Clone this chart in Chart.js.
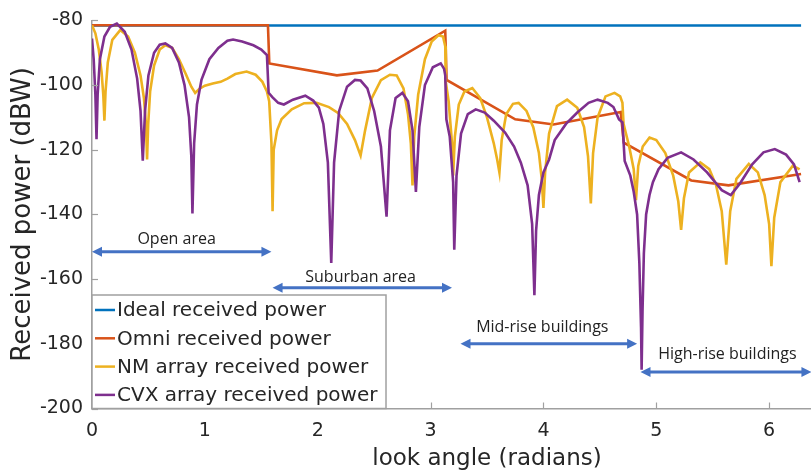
<!DOCTYPE html>
<html>
<head>
<meta charset="utf-8">
<title>Received power vs look angle</title>
<script src="https://cdn.jsdelivr.net/npm/chart.js@4.4.1/dist/chart.umd.min.js"></script>
<style>
  html, body { margin: 0; padding: 0; background: #fff; overflow: hidden; }
  /* the axes run to 7 rad; the figure is cropped at the window edge */
  #wrap { width: 882px; height: 473px; }
</style>
</head>
<body>
<div id="wrap"><canvas id="chart"></canvas></div>
<script>
// look angle (radians) / received power (dBW)
const idealX = [0, 6.283];
const idealY = [-81.6, -81.6];

const omniX = [0, 1.559, 1.571, 2.17, 2.53, 3.13, 3.142, 3.75, 4.09, 4.685, 4.712, 5.31, 5.64, 6.283];
const omniY = [-81.5, -81.5, -93.3, -97.0, -95.5, -83.2, -98.4, -110.6, -112.2, -108.3, -117.8, -129.5, -131.0, -127.5];

const nmX = [0.00, 0.03, 0.06, 0.085, 0.100, 0.110, 0.120, 0.140, 0.180, 0.250, 0.320, 0.380, 0.430, 0.460, 0.478, 0.488, 0.498, 0.515, 0.550, 0.600,
  0.650, 0.710, 0.770, 0.830, 0.880, 0.914, 0.950, 1.000, 1.070, 1.140, 1.200, 1.270, 1.370, 1.450, 1.510, 1.550, 1.570, 1.590, 1.600, 1.610,
  1.640, 1.680, 1.770, 1.880, 1.990, 2.100, 2.180, 2.260, 2.330, 2.380, 2.420, 2.480, 2.560, 2.640, 2.700, 2.760, 2.800, 2.825, 2.840, 2.855,
  2.890, 2.950, 3.010, 3.070, 3.110, 3.130, 3.135, 3.160, 3.190, 3.200, 3.215, 3.250, 3.300, 3.370, 3.440, 3.500, 3.560, 3.590, 3.610, 3.630,
  3.670, 3.730, 3.780, 3.850, 3.910, 3.960, 3.985, 4.000, 4.015, 4.050, 4.120, 4.210, 4.300, 4.360, 4.395, 4.420, 4.440, 4.480, 4.550, 4.630,
  4.680, 4.700, 4.710, 4.760, 4.800, 4.820, 4.840, 4.880, 4.940, 5.000, 5.080, 5.150, 5.195, 5.220, 5.245, 5.290, 5.390, 5.470, 5.530, 5.580,
  5.620, 5.655, 5.710, 5.820, 5.900, 5.960, 6.000, 6.020, 6.045, 6.100, 6.210, 6.270];
const nmY = [-81.5, -84, -89, -96, -103, -111, -102, -93, -86, -83, -85, -90, -97, -104, -112, -123, -112, -102, -94, -89,
  -87.7, -88.5, -92, -96.5, -100.5, -102.4, -101.2, -100.2, -99.5, -99, -98, -96.6, -95.8, -96.8, -99, -102, -105, -118, -139, -120,
  -114, -110.5, -107.5, -105.6, -105.5, -106.8, -108.6, -112, -117, -121.8, -114, -104, -98.5, -96.8, -97, -101, -109, -118, -131, -116,
  -103, -92, -86.5, -84.6, -85, -88, -99, -105, -118, -128, -116, -106, -102, -100.9, -104, -110, -118, -123, -127, -117,
  -109, -105.8, -105.5, -108, -113, -121, -129, -138, -127, -115, -106.5, -104.5, -107, -113, -122, -136.6, -121, -110, -103.5, -102.4,
  -103.5, -105.5, -112, -119, -126, -135.6, -125, -119, -116.2, -117, -121, -128, -136, -144.8, -135, -127, -123.9, -126, -131, -139,
  -155.5, -139, -129, -124.4, -127, -134, -143, -156, -141, -130, -124.9, -126.1];

const cvxX = [0.000, 0.015, 0.030, 0.040, 0.050, 0.070, 0.110, 0.160, 0.220, 0.290, 0.350, 0.400, 0.430, 0.450, 0.470, 0.500, 0.550, 0.600, 0.650, 0.710,
  0.770, 0.820, 0.860, 0.880, 0.890, 0.905, 0.930, 0.970, 1.040, 1.120, 1.200, 1.250, 1.330, 1.430, 1.500, 1.550, 1.565, 1.600, 1.650, 1.700,
  1.780, 1.890, 1.960, 2.010, 2.050, 2.090, 2.120, 2.145, 2.190, 2.260, 2.330, 2.380, 2.440, 2.500, 2.560, 2.610, 2.640, 2.690, 2.750, 2.800,
  2.840, 2.870, 2.900, 2.950, 3.020, 3.090, 3.120, 3.130, 3.140, 3.170, 3.200, 3.210, 3.230, 3.270, 3.330, 3.400, 3.480, 3.560, 3.660, 3.740,
  3.800, 3.860, 3.900, 3.920, 3.935, 3.960, 4.000, 4.050, 4.100, 4.200, 4.300, 4.400, 4.480, 4.570, 4.620, 4.670, 4.700, 4.720, 4.770, 4.800,
  4.830, 4.850, 4.865, 4.870, 4.878, 4.890, 4.910, 4.940, 4.970, 5.020, 5.100, 5.220, 5.330, 5.450, 5.580, 5.660, 5.740, 5.850, 5.950, 6.050,
  6.150, 6.220, 6.270];
const cvxY = [-85.6, -92, -103, -116.7, -103, -92, -85, -82, -81, -83.5, -89, -98, -108, -123.4, -108, -97, -90, -87.5, -87.1, -88.5,
  -93, -100, -110, -122, -139.7, -118, -106, -98.4, -92, -88.5, -86.3, -85.9, -86.5, -87.7, -89, -90.7, -102.4, -103.8, -105.5, -106,
  -104.5, -103.3, -104.8, -107, -112, -124, -155, -124, -108, -100.5, -98.4, -98.6, -101, -108, -119, -140.7, -114, -104, -102.4, -105,
  -114, -133, -113, -100, -94.5, -93.3, -95, -97, -110.6, -116, -130, -150.9, -128, -115, -109, -107.5, -108.5, -111, -114.7, -119,
  -124, -131, -143, -165, -145, -134, -127, -123, -117, -112, -108.5, -105.5, -104.5, -105.5, -106.8, -110.6, -111.5, -123.5, -128, -133,
  -140, -155, -175, -188, -170, -152, -140, -134, -130, -126, -122.5, -120.8, -123, -127, -132.5, -134, -130.5, -124.5, -120.8, -119.8,
  -121.5, -124.5, -130];

const seriesNames = ['Ideal received power', 'Omni received power', 'NM array received power', 'CVX array received power'];
const regionNames = ['Open area', 'Suburban area', 'Mid-rise buildings', 'High-rise buildings'];

// MATLAB default line colours
const colors = {
    ideal: '#0072BD',
    omni: '#D95319',
    nm: '#EDB120',
    cvx: '#7E2F8E',
    arrow: '#4472C4',
    axis: '#a0a0a0',
    text: '#262626'
};

const toPoints = (xs, ys) => xs.map((x, i) => ({ x: x, y: ys[i] }));

// region arrows, in axis units
const regions = [
    { from: 0.0, to: 1.59, y: -151.5, textX: 0.75, textY: -147.6 },
    { from: 1.60, to: 3.19, y: -162.7, textX: 2.38, textY: -159.4 },
    { from: 3.265, to: 4.83, y: -180.0, textX: 3.99, textY: -174.8 },
    { from: 4.86, to: 6.375, y: -188.7, textX: 5.63, textY: -183.4 }
];

function drawArrow(ctx, x1, x2, y) {
    const head = 10, half = 5;
    ctx.save();
    ctx.strokeStyle = colors.arrow;
    ctx.fillStyle = colors.arrow;
    ctx.lineWidth = 3;
    ctx.beginPath();
    ctx.moveTo(x1 + head - 1, y);
    ctx.lineTo(x2 - head + 1, y);
    ctx.stroke();
    ctx.beginPath();
    ctx.moveTo(x1, y);
    ctx.lineTo(x1 + head, y - half);
    ctx.lineTo(x1 + head, y + half);
    ctx.closePath();
    ctx.fill();
    ctx.beginPath();
    ctx.moveTo(x2, y);
    ctx.lineTo(x2 - head, y - half);
    ctx.lineTo(x2 - head, y + half);
    ctx.closePath();
    ctx.fill();
    ctx.restore();
}

const overlays = {
    id: 'overlays',
    afterDatasetsDraw(chart) {
        const { ctx, chartArea, scales } = chart;
        const xs = scales.x, ys = scales.y;

        // region arrows + labels
        regions.forEach((r, i) => {
            drawArrow(ctx, xs.getPixelForValue(r.from), xs.getPixelForValue(r.to), ys.getPixelForValue(r.y));
            ctx.save();
            ctx.font = "16px 'Open Sans'";
            ctx.fillStyle = '#222';
            ctx.textAlign = 'center';
            ctx.textBaseline = 'middle';
            ctx.fillText(regionNames[i], xs.getPixelForValue(r.textX), ys.getPixelForValue(r.textY));
            ctx.restore();
        });

        // inward tick marks
        ctx.save();
        ctx.strokeStyle = colors.axis;
        ctx.lineWidth = 1.2;
        ys.ticks.forEach(t => {
            const py = Math.round(ys.getPixelForValue(t.value)) + 0.5;
            ctx.beginPath();
            ctx.moveTo(chartArea.left, py);
            ctx.lineTo(chartArea.left + 6, py);
            ctx.stroke();
        });
        xs.ticks.forEach(t => {
            const px = Math.round(xs.getPixelForValue(t.value)) + 0.5;
            ctx.beginPath();
            ctx.moveTo(px, chartArea.bottom);
            ctx.lineTo(px, chartArea.bottom - 6);
            ctx.stroke();
        });
        ctx.restore();

        // legend box, bottom-left inside the axes
        const lineColors = [colors.ideal, colors.omni, colors.nm, colors.cvx];
        const bx = chartArea.left, by = 295, bw = 294, bh = chartArea.bottom - 295;
        ctx.save();
        ctx.fillStyle = '#fff';
        ctx.fillRect(bx, by, bw, bh);
        ctx.strokeStyle = colors.axis;
        ctx.lineWidth = 1.5;
        ctx.strokeRect(bx, by, bw, bh);
        ctx.font = "20px 'DejaVu Sans'";
        ctx.textBaseline = 'middle';
        ctx.fillStyle = colors.text;
        seriesNames.forEach((name, i) => {
            const cy = by + 15 + i * 28.3;
            ctx.strokeStyle = lineColors[i];
            ctx.lineWidth = 2.5;
            ctx.beginPath();
            ctx.moveTo(bx + 3, cy);
            ctx.lineTo(bx + 23, cy);
            ctx.stroke();
            ctx.fillText(name, bx + 25, cy + 1);
        });
        ctx.restore();
    }
};

const lineSet = (label, xs, ys, color, order) => ({
    label: label,
    data: toPoints(xs, ys),
    borderColor: color,
    backgroundColor: color,
    borderWidth: 2.6,
    pointRadius: 0,
    tension: 0,
    showLine: true,
    order: order
});

new Chart(document.getElementById('chart'), {
    type: 'scatter',
    data: {
        datasets: [
            lineSet(seriesNames[0], idealX, idealY, colors.ideal, 3),
            lineSet(seriesNames[1], omniX, omniY, colors.omni, 2),
            lineSet(seriesNames[2], nmX, nmY, colors.nm, 1),
            lineSet(seriesNames[3], cvxX, cvxY, colors.cvx, 0)
        ]
    },
    options: {
        responsive: true,
        maintainAspectRatio: false,
        animation: false,
        layout: { padding: { top: 17, left: 0, right: 0, bottom: 0 } },
        plugins: {
            legend: { display: false },
            tooltip: { enabled: false }
        },
        scales: {
            x: {
                type: 'linear',
                min: 0,
                max: 7,
                grid: { display: false, drawTicks: false },
                border: { display: true, color: colors.axis, width: 1.5 },
                ticks: {
                    stepSize: 1,
                    includeBounds: false,
                    padding: 11,
                    color: colors.text,
                    font: { family: 'DejaVu Sans', size: 19 },
                    callback: v => (v <= 6 ? v : '')
                },
                title: {
                    display: true,
                    text: 'look angle (radians)',
                    color: colors.text,
                    font: { family: 'DejaVu Sans', size: 23 },
                    padding: { top: 0, bottom: 0 }
                },
                afterFit: s => {
                    s.height = 64.5;
                    s.paddingLeft = 0;
                    s.paddingRight = 0;
                }
            },
            y: {
                min: -200,
                max: -80,
                grid: { display: false, drawTicks: false },
                border: { display: true, color: colors.axis, width: 1.5 },
                ticks: {
                    stepSize: 20,
                    padding: 9,
                    color: colors.text,
                    font: { family: 'DejaVu Sans', size: 19 }
                },
                title: {
                    display: true,
                    text: 'Received power (dBW)',
                    color: colors.text,
                    font: { family: 'DejaVu Sans', size: 26 },
                    padding: { top: 8, bottom: 0 }
                },
                afterFit: s => { s.width = 92; }
            }
        }
    },
    plugins: [overlays]
});
</script>
</body>
</html>
